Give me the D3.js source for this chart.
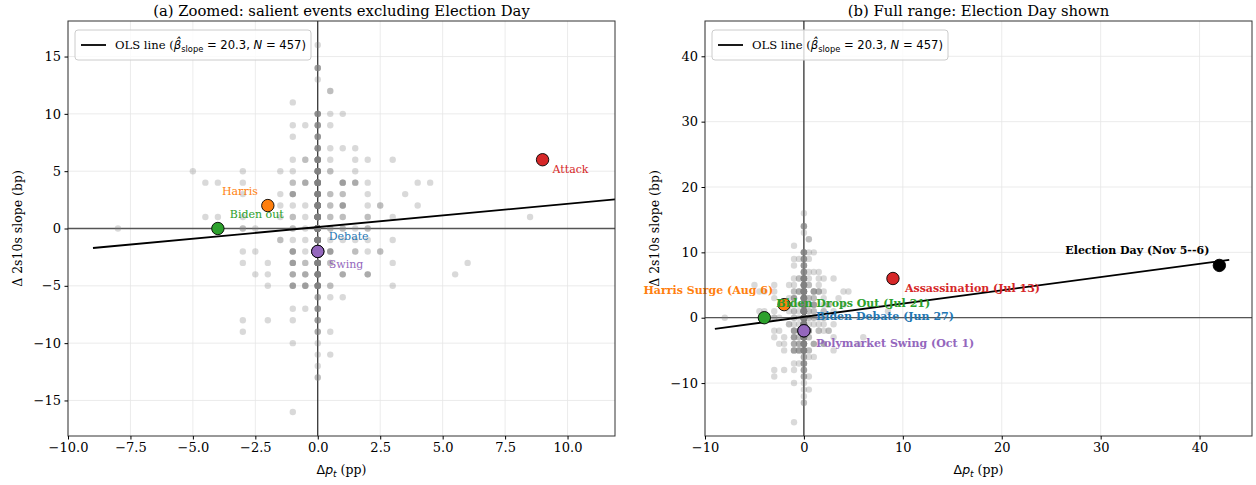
<!DOCTYPE html>
<html>
<head>
<meta charset="utf-8">
<script src="https://cdn.jsdelivr.net/npm/d3@7"></script>
<style>
  body { margin: 0; background: #fff; }
  text { font-family: "DejaVu Serif", serif; }
  .math { font-family: "DejaVu Sans", sans-serif; }
</style>
</head>
<body>
<svg id="chart" width="1256" height="485"></svg>
<script>
// daily observations on a 0.5pp x 1bp grid: one row per slope value
var cloudSlope = [16, 14, 13, 12, 11, 10, 9, 8, 7, 6, 5, 4, 3, 2, 1, 0,
                  -1, -2, -3, -4, -5, -6, -7, -8, -9, -10, -11, -12, -13, -16];
var cloudDp = [
  [0], [0], [0], [0.5], [-1], [0, 0.5, 1], [-1, -0.5, 0, 0.5], [-1, 0],
  [0, 0.5, 1, 1.5], [-1, -0.5, 0, 0.5, 1.5, 2, 3], [-5, -3, -1.5, -1, 0, 0.5, 1.5],
  [-4.5, -4, -3, -1, -0.5, 0, 1, 1.5, 2, 4, 4.5], [-3, -1.5, -1, 0, 0.5, 1, 2, 3.5],
  [-1.5, -1, -0.5, 0, 0.5, 1, 2, 2.5, 4], [-4.5, -4, -3, -1.5, -1, -0.5, 0, 0.5, 1, 2, 3, 8.5],
  [-8, -3, -2.5, -1, -0.5, 0, 0.5, 1, 1.5, 2], [-1.5, -1, -0.5, 0, 0.5, 1, 1.5, 2, 3],
  [-3, -2.5, -1, -0.5, 0, 0.5, 1.5, 2, 2.5], [-3, -2, -1, -0.5, 0, 0.5, 3, 6],
  [-2.5, -2, -1, -0.5, 0, 1, 2, 5.5], [-2, -1, -0.5, 0, 0.5, 3], [0, 0.5, 1],
  [-1, -0.5, 0], [-3, -2, -1, 0], [-3, 0, 0.5], [-1, 0], [0, 0.5], [0], [0], [-1]
];
var cloudCount = [
  [1], [4], [1], [2], [1], [6, 1, 1], [1, 1, 5, 1], [1, 5],
  [6, 1, 1, 1], [1, 2, 11, 1, 1, 1, 1], [1, 1, 1, 1, 11, 2, 1],
  [1, 1, 1, 2, 3, 15, 4, 3, 1, 1, 1], [1, 1, 4, 16, 2, 2, 1, 1],
  [1, 1, 1, 20, 2, 4, 1, 2, 1], [1, 1, 1, 1, 2, 1, 24, 2, 2, 2, 1, 1],
  [1, 2, 1, 2, 1, 50, 2, 2, 1, 2], [2, 1, 1, 22, 1, 1, 1, 1, 1],
  [1, 1, 4, 1, 20, 4, 2, 1, 2], [1, 1, 4, 2, 16, 2, 1, 1],
  [1, 1, 3, 3, 13, 3, 3, 1], [1, 4, 4, 11, 2, 1], [3, 1, 1],
  [1, 1, 5], [1, 1, 1, 4], [1, 3, 1], [1, 1], [1, 1], [1], [2], [1]
];

// salient events
var eventShort = ["Debate", "Attack", "Biden out", "Harris", "Swing"];
var eventLong = ["Biden Debate (Jun 27)", "Assassination (Jul 13)", "Biden Drops Out (Jul 21)",
                 "Harris Surge (Aug 6)", "Polymarket Swing (Oct 1)"];
var eventDp = [0, 9, -4, -2, 0];
var eventSlope = [-2, 6, 0, 2, -2];
var eventColor = ["#1f77b4", "#d62728", "#2ca02c", "#ff7f0e", "#9467bd"];
var electionLabel = "Election Day (Nov 5--6)";
var electionDp = 42, electionSlope = 8;

// OLS fit (per pp)
var olsSlope = 0.203, olsIntercept = 0.127, olsRange = [-9, 43];

// label offsets in px: [dx, dy, anchor] -- left panel, right panel
var offShort = [[11, -15, "start"], [10, 10, "start"], [12, -14, "start"], [-10, -14, "end"], [11, 13, "start"]];
var offLong = [[12, -14, "start"], [12, 10, "start"], [12, -14, "start"], [-11, -14, "end"], [12, 13, "start"]];

var svg = d3.select("#chart");

var obs = [];
cloudSlope.forEach(function(s, i) {
  cloudDp[i].forEach(function(dp, j) {
    for (var k = 0; k < cloudCount[i][j]; k++) obs.push({dp: dp, s: s});
  });
});

var panels = [
  {left: 68, right: 615, top: 21, bottom: 436, xd: [-10, 11.9], yd: [-18.1, 18.1],
   xt: d3.range(-10, 10.1, 2.5), fmt: d3.format(".1f"), yt: d3.range(-15, 15.1, 5),
   title: "(a) Zoomed: salient events excluding Election Day", full: false},
  {left: 705, right: 1252, top: 21, bottom: 436, xd: [-10, 45.3], yd: [-18.1, 45.4],
   xt: d3.range(-10, 40.1, 10), fmt: d3.format("d"), yt: d3.range(-10, 40.1, 10),
   title: "(b) Full range: Election Day shown", full: true}
];

panels.forEach(function(p, pi) {
  var x = d3.scaleLinear().domain(p.xd).range([p.left, p.right]);
  var y = d3.scaleLinear().domain(p.yd).range([p.bottom, p.top]);
  var g = svg.append("g");

  g.append("clipPath").attr("id", "clip" + pi)
    .append("rect").attr("x", p.left).attr("y", p.top)
    .attr("width", p.right - p.left).attr("height", p.bottom - p.top);

  // grid
  g.selectAll(".gx").data(p.xt).enter().append("line")
    .attr("x1", x).attr("x2", x).attr("y1", p.top).attr("y2", p.bottom)
    .style("stroke", "#e6e6e6").style("stroke-width", 0.8);
  g.selectAll(".gy").data(p.yt).enter().append("line")
    .attr("y1", y).attr("y2", y).attr("x1", p.left).attr("x2", p.right)
    .style("stroke", "#e6e6e6").style("stroke-width", 0.8);

  var plot = g.append("g").attr("clip-path", "url(#clip" + pi + ")");

  plot.append("line").attr("x1", p.left).attr("x2", p.right)
    .attr("y1", y(0)).attr("y2", y(0))
    .style("stroke", "#555").style("stroke-width", 1.3);
  plot.append("line").attr("y1", p.top).attr("y2", p.bottom)
    .attr("x1", x(0)).attr("x2", x(0))
    .style("stroke", "#000").style("stroke-width", 1);

  plot.selectAll(".obs").data(obs).enter().append("circle")
    .attr("cx", function(d) { return x(d.dp); })
    .attr("cy", function(d) { return y(d.s); })
    .attr("r", 3.2)
    .style("fill", "gray").style("fill-opacity", 0.3);

  plot.append("line")
    .attr("x1", x(olsRange[0])).attr("y1", y(olsIntercept + olsSlope * olsRange[0]))
    .attr("x2", x(olsRange[1])).attr("y2", y(olsIntercept + olsSlope * olsRange[1]))
    .style("stroke", "#000").style("stroke-width", 1.8);

  // events
  var ev = eventDp.map(function(d, i) {
    return {dp: d, s: eventSlope[i], c: eventColor[i],
            label: p.full ? eventLong[i] : eventShort[i],
            off: p.full ? offLong[i] : offShort[i]};
  });
  if (p.full) ev.push({dp: electionDp, s: electionSlope, c: "#000", label: electionLabel, off: [-10, -15, "end"]});

  g.selectAll(".ev").data(ev).enter().append("circle")
    .attr("cx", function(d) { return x(d.dp); })
    .attr("cy", function(d) { return y(d.s); })
    .attr("r", 6.2)
    .style("fill", function(d) { return d.c; })
    .style("stroke", "#000").style("stroke-width", 0.9);

  g.selectAll(".evl").data(ev).enter().append("text")
    .attr("x", function(d) { return x(d.dp) + d.off[0]; })
    .attr("y", function(d) { return y(d.s) + d.off[1]; })
    .attr("dominant-baseline", "central")
    .attr("text-anchor", function(d) { return d.off[2]; })
    .style("font-size", "11px")
    .style("font-weight", p.full ? "bold" : "normal")
    .style("fill", function(d) { return d.c; })
    .text(function(d) { return d.label; });

  // frame
  g.append("rect").attr("x", p.left).attr("y", p.top)
    .attr("width", p.right - p.left).attr("height", p.bottom - p.top)
    .style("fill", "none").style("stroke", "#333").style("stroke-width", 1);

  // axes
  var ax = g.append("g").attr("transform", "translate(0," + p.bottom + ")")
    .call(d3.axisBottom(x).tickValues(p.xt).tickFormat(p.fmt).tickSize(3.5).tickPadding(3.5));
  var ay = g.append("g").attr("transform", "translate(" + p.left + ",0)")
    .call(d3.axisLeft(y).tickValues(p.yt).tickFormat(d3.format("d")).tickSize(3.5).tickPadding(3.5));
  [ax, ay].forEach(function(a) {
    a.select(".domain").remove();
    a.selectAll("text").style("font-family", "DejaVu Serif").style("font-size", "13px").style("fill", "#000");
    a.selectAll("line").style("stroke", "#000");
  });

  // title
  g.append("text").attr("x", (p.left + p.right) / 2).attr("y", 16)
    .attr("text-anchor", "middle").style("font-size", "14.8px").text(p.title);

  // x label
  var xl = g.append("text").attr("x", (p.left + p.right) / 2).attr("y", 474)
    .attr("text-anchor", "middle").style("font-size", "12.5px");
  xl.append("tspan").attr("class", "math").text("Δ");
  xl.append("tspan").attr("class", "math").style("font-style", "italic").text("p");
  xl.append("tspan").attr("class", "math").style("font-size", "9px").style("font-style", "italic").attr("dy", 3).text("t");
  xl.append("tspan").attr("dy", -3).text(" (pp)");

  // y label
  g.append("text")
    .attr("transform", "translate(" + (p.left - 51) + "," + ((p.top + p.bottom) / 2) + ") rotate(-90)")
    .attr("text-anchor", "middle").attr("dominant-baseline", "central")
    .style("font-size", "12.5px").text("Δ 2s10s slope (bp)");

  // legend
  var lg = g.append("g").attr("transform", "translate(" + (p.left + 7) + "," + (p.top + 9) + ")");
  lg.append("rect").attr("width", 236).attr("height", 30).attr("rx", 3)
    .style("fill", "#fff").style("fill-opacity", 0.8)
    .style("stroke", "#ccc").style("stroke-width", 1);
  lg.append("line").attr("x1", 6).attr("x2", 31).attr("y1", 15).attr("y2", 15)
    .style("stroke", "#000").style("stroke-width", 1.8);
  var lt = lg.append("text").attr("x", 40).attr("y", 19).style("font-size", "11.6px");
  lt.append("tspan").text("OLS line (");
  lt.append("tspan").attr("class", "math").style("font-style", "italic").text("β\u0302");
  lt.append("tspan").attr("class", "math").style("font-size", "8.3px").attr("dy", 3).text("slope");
  lt.append("tspan").attr("class", "math").attr("dy", -3).text(" = 20.3, ");
  lt.append("tspan").attr("class", "math").style("font-style", "italic").text("N");
  lt.append("tspan").attr("class", "math").text(" = 457)");
});
</script>
</body>
</html>
